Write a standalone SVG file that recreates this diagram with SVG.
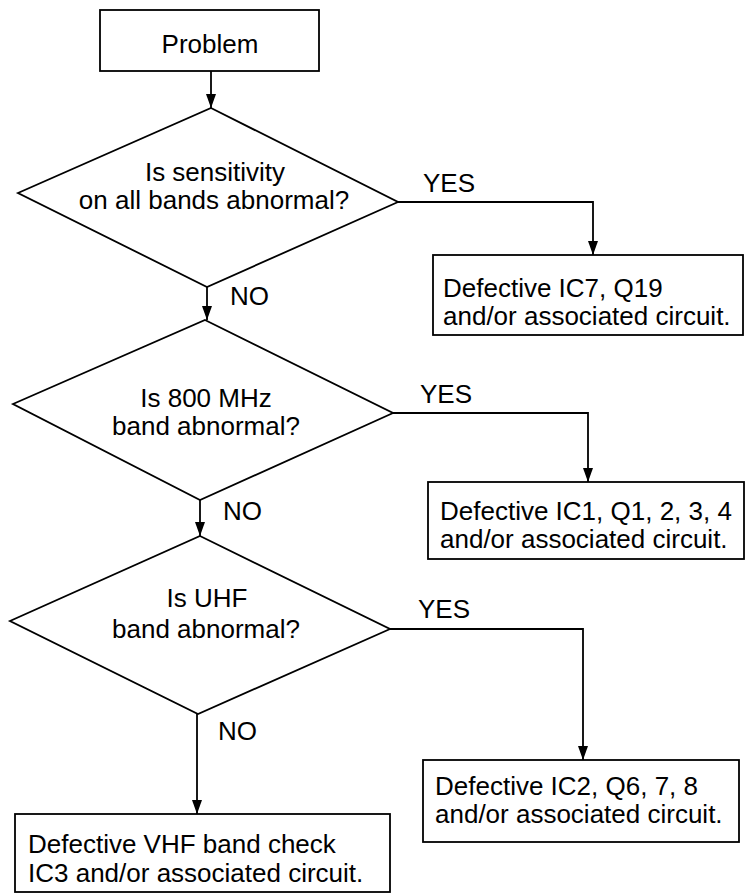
<svg xmlns="http://www.w3.org/2000/svg" width="745" height="896" viewBox="0 0 745 896">
<style>
  .shape { fill: #fff; stroke: #000; stroke-width: 1.8; }
  .conn { fill: none; stroke: #000; stroke-width: 1.8; }
  text { font-family: "Liberation Sans", Arial, sans-serif; font-size: 26px; fill: #000; }
  .c { text-anchor: middle; }
</style>
<defs>
  <marker id="arrow" markerUnits="userSpaceOnUse" markerWidth="10" markerHeight="14" refX="5" refY="14" orient="0" viewBox="0 0 10 14">
    <path d="M0,0 L10,0 L5,14 z" fill="#000"/>
  </marker>
</defs>
<rect width="745" height="896" fill="#fff"/>
<g id="connectors">
  <path class="conn" d="M211,71 V108" marker-end="url(#arrow)"/>
  <path class="conn" d="M398,202 H593 V255" marker-end="url(#arrow)"/>
  <path class="conn" d="M207,287 V320" marker-end="url(#arrow)"/>
  <path class="conn" d="M393,413 H588 V482" marker-end="url(#arrow)"/>
  <path class="conn" d="M200,500 V536" marker-end="url(#arrow)"/>
  <path class="conn" d="M390,629 H583 V760" marker-end="url(#arrow)"/>
  <path class="conn" d="M197,714 V814" marker-end="url(#arrow)"/>
  <text x="423" y="192">YES</text>
  <text x="230" y="305">NO</text>
  <text x="420" y="403">YES</text>
  <text x="223" y="520">NO</text>
  <text x="418" y="618">YES</text>
  <text x="218" y="740">NO</text>
</g>
<g id="problem">
  <rect class="shape" x="100" y="10" width="219" height="61"/>
  <text class="c" x="210" y="53">Problem</text>
</g>
<g id="q-all-bands">
  <polygon class="shape" points="211,108 398,202 207,287 18,193"/>
  <text class="c" x="215" y="181">Is sensitivity</text>
  <text class="c" x="214" y="209">on all bands abnormal?</text>
</g>
<g id="r-ic7">
  <rect class="shape" x="433" y="255" width="310" height="80"/>
  <text x="443" y="297">Defective IC7, Q19</text>
  <text x="443" y="325">and/or associated circuit.</text>
</g>
<g id="q-800">
  <polygon class="shape" points="205,320 393,413 200,500 13,404"/>
  <text class="c" x="206" y="407">Is 800 MHz</text>
  <text class="c" x="206" y="435">band abnormal?</text>
</g>
<g id="r-ic1">
  <rect class="shape" x="428" y="482" width="316" height="77"/>
  <text x="440" y="520">Defective IC1, Q1, 2, 3, 4</text>
  <text x="440" y="548">and/or associated circuit.</text>
</g>
<g id="q-uhf">
  <polygon class="shape" points="200,536 390,629 198,714 10,621"/>
  <text class="c" x="207" y="607">Is UHF</text>
  <text class="c" x="206" y="638">band abnormal?</text>
</g>
<g id="r-ic2">
  <rect class="shape" x="423" y="760" width="316" height="82"/>
  <text x="435" y="795">Defective IC2, Q6, 7, 8</text>
  <text x="435" y="823">and/or associated circuit.</text>
</g>
<g id="r-vhf">
  <rect class="shape" x="15" y="814" width="375" height="78"/>
  <text x="28" y="853">Defective VHF band check</text>
  <text x="28" y="882">IC3 and/or associated circuit.</text>
</g>
</svg>
